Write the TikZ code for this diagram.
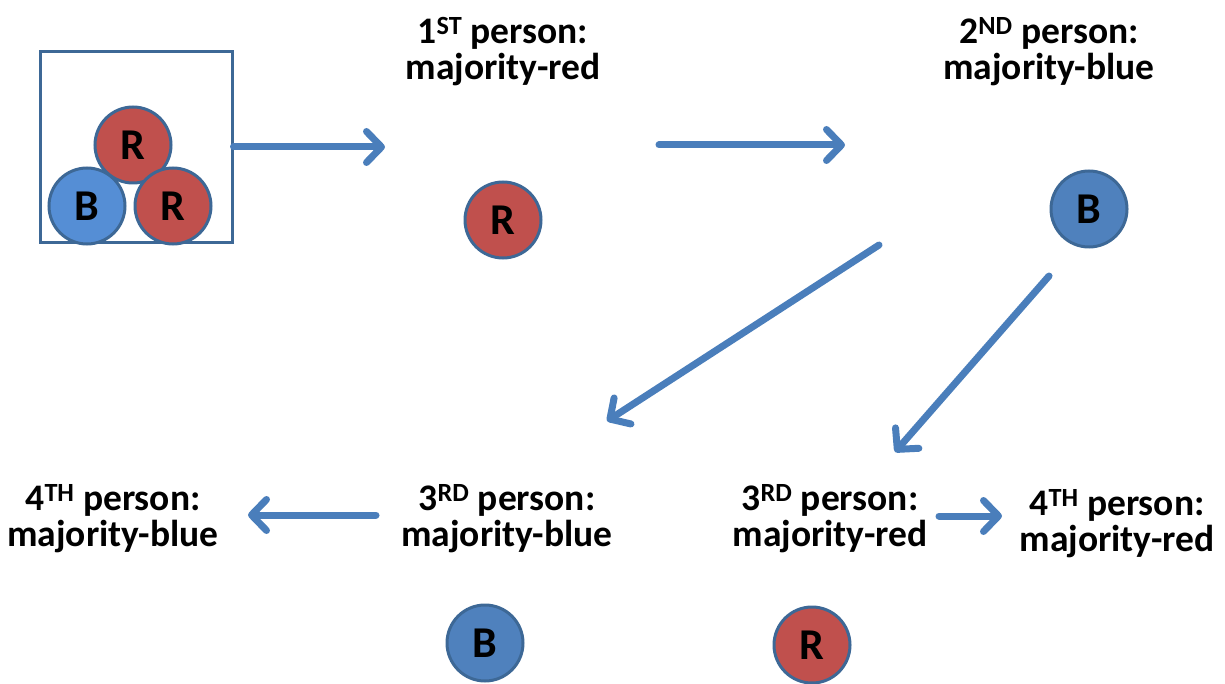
\documentclass[tikz,border=0pt]{standalone}
\usepackage{fontspec}
\setmainfont{Carlito}
\usetikzlibrary{arrows.meta}
\definecolor{flowblue}{HTML}{4A7EBB}
\definecolor{rimblue}{HTML}{3D6896}
\definecolor{ballred}{HTML}{C0504D}
\definecolor{ballblue}{HTML}{4F81BD}
\definecolor{ballsky}{HTML}{558ED5}
\tikzset{
  ball/.style={circle, draw=rimblue, line width=3pt, minimum size=76pt, inner sep=0pt,
    font=\fontsize{44}{44}\selectfont\bfseries},
  redball/.style={ball, fill=ballred},
  blueball/.style={ball, fill=ballblue},
  skyball/.style={ball, fill=ballsky},
  caption/.style={align=center, font=\fontsize{37.5}{36}\selectfont\bfseries, inner sep=0pt},
  flow/.style={draw=flowblue, line width=7pt, line cap=round,
    -{Straight Barb[length=15pt, width=31pt, line cap=round, line join=round]}},
}
\begin{document}
\begin{tikzpicture}[x=1pt, y=-1pt]
  \useasboundingbox (0,0) rectangle (1225,684);

  % urn with three balls
  \node[draw=rimblue, line width=3pt, minimum width=192pt, minimum height=191pt, inner sep=0pt] (urn) at (136,147.5) {};
  \node[redball]  (urnR1) at (133,145) {R};
  \node[skyball]  (urnB)  at (87,206)  {B};
  \node[redball]  (urnR2) at (173,206) {R};

  % captions
  \node[caption] (p1)  at (503,52)  {1\textsuperscript{ST} person:\\majority-red};
  \node[caption] (p2)  at (1049,52) {2\textsuperscript{ND} person:\\majority-blue};
  \node[caption] (p3b) at (507,519) {3\textsuperscript{RD} person:\\majority-blue};
  \node[caption] (p4b) at (113,519) {4\textsuperscript{TH} person:\\majority-blue};
  \node[caption] (p3r) at (830,519) {3\textsuperscript{RD} person:\\majority-red};
  \node[caption] (p4r) at (1117,524) {4\textsuperscript{TH} person:\\majority-red};

  % drawn balls
  \node[redball]  (d1) at (503,220) {R};
  \node[blueball] (d2) at (1089,209) {B};
  \node[blueball] (d3b) at (485,643) {B};
  \node[redball]  (d3r) at (812,645) {R};

  % arrow end points
  \coordinate (a1s) at (urn.east |- 0,147);
  \coordinate (a1e) at (385,147);
  \coordinate (a2s) at (659,145);
  \coordinate (a2e) at (845,145);
  \coordinate (a3s) at (879,245);
  \coordinate (a3e) at (607,421);
  \coordinate (a4s) at (1049,276);
  \coordinate (a4e) at (895,452);
  \coordinate (a5s) at (376,515);
  \coordinate (a5e) at (248,515);
  \coordinate (a6s) at (939,516);
  \coordinate (a6e) at (1002,516);

  \draw[flow] (a1s) -- (a1e);
  \draw[flow] (a2s) -- (a2e);
  \draw[flow] (a3s) -- (a3e);
  \draw[flow] (a4s) -- (a4e);
  \draw[flow] (a5s) -- (a5e);
  \draw[flow] (a6s) -- (a6e);
\end{tikzpicture}
\end{document}
